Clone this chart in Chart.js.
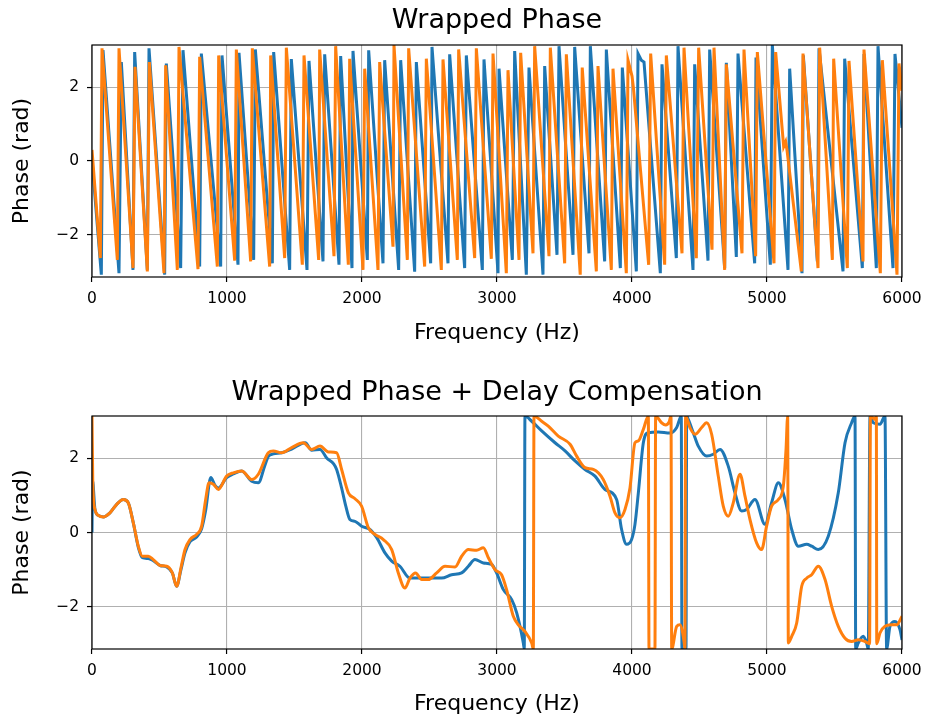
<!DOCTYPE html>
<html>
<head>
<meta charset="utf-8">
<script src="https://cdn.jsdelivr.net/npm/chart.js@4/dist/chart.umd.min.js"></script>
<style>
  html, body { margin: 0; padding: 0; background: #ffffff; }
  #wrap { position: relative; width: 933px; height: 718px; }
  canvas { position: absolute; left: 0; }
</style>
</head>
<body>
<div id="wrap">
  <canvas id="c1" width="933" height="365" style="top:0px"></canvas>
  <canvas id="c2" width="933" height="353" style="top:365px"></canvas>
</div>
<script>
// ---------- Data ----------
const seriesNames = ['Signal A', 'Signal B'];
const xTicks = [0, 1000, 2000, 3000, 4000, 5000, 6000];
const yTicks = [-2, 0, 2];
const titles = ['Wrapped Phase', 'Wrapped Phase + Delay Compensation'];
const xLabel = 'Frequency (Hz)';
const yLabel = 'Phase (rad)';

// Top panel: wrapped phase, blue series (Hz / rad)
const wrapBlueHz = [0,69.1,81.5,200,217.3,303.7,316,409.9,422.2,538.3,550.6,656.8,674.1,797.5,809.9,953.1,963,
  1081.5,1088.9,1197.5,1209.9,1335.8,1345.7,1464.2,1476.5,1592.6,1607.4,1711.1,1723.5,1829.6,1841.9,1925.9,1933.3,
  2039.5,2049.4,2155.6,2167.9,2271.6,2286.4,2390.1,2402.5,2508.6,2518.5,2637,2649.4,2760.5,2772.8,2891.3,2903.7,
  3007.4,3015,3113.6,3130.9,3217.3,3237,3340.7,3353.1,3444.4,3459.3,3563,3575.3,3681.5,3691.4,3797.5,3809.9,3913.6,3928.4,
  4032.1,4044.4,4069,4088.9,4209.9,4222.2,4328.4,4340.7,4451.8,4464.2,4562.9,4575.3,4686.4,4698.8,4772.8,4785.2,4908.6,4918.5,
  5024.7,5039.5,5155.6,5167.9,5259.3,5269.1,5372.8,5385.2,5563,5575.3,5706.2,5718.5,5809.9,5822.2,5933.3,5948,6000];
const wrapBlueRad = [0.03,-3.08,3.0,-3.04,2.68,-2.95,2.95,-2.95,3.05,-3.08,2.64,-2.9,3.0,-2.86,2.91,-2.86,2.86,
  -2.81,2.93,-2.68,3.02,-2.77,2.95,-2.95,2.76,-2.95,2.71,-2.72,2.89,-2.81,2.84,-2.9,2.98,
  -2.68,3.0,-2.77,2.73,-2.95,2.73,-3.0,2.68,-2.77,3.09,-2.77,2.89,-2.9,2.86,-2.95,2.75,
  -3.04,2.5,-2.68,2.98,-3.08,2.53,-3.08,2.57,-2.54,3.11,-2.54,3.09,-2.5,3.11,-2.72,3.02,-2.9,2.53,
  -2.99,2.91,2.73,2.68,-3.04,2.62,-2.63,3.11,-2.95,2.62,-2.7,3.02,-2.9,2.66,-2.6,2.91,-2.77,2.8,
  -2.81,3.14,-2.95,2.5,-3.04,2.86,-2.72,3.05,-2.99,2.77,-2.9,2.9,-2.9,3.11,-2.9,2.9,0.9];

// Top panel: wrapped phase, orange series (Hz / rad)
const wrapOrangeHz = [0,61.7,74.1,187.7,200,303.7,318.5,409.9,424.7,533.3,545.7,632.1,644.4,785.2,797.5,928.4,938.3,
  1056.8,1069.1,1175.3,1187.6,1316,1323.5,1427.2,1439.5,1558,1570.4,1679,1686.4,1792.6,1804.9,1898.8,1908.6,
  2007.4,2019.8,2118.5,2130.9,2229.6,2237,2335.8,2345.7,2464.2,2476.5,2587.6,2600,2706.2,2716,2834.6,2846.9,2958,2970.4,
  3069.1,3081.5,3163,3175.3,3266.7,3279,3385.2,3395,3501.2,3513.6,3616.5,3631.3,3735.8,3748.1,3846.9,3859.3,3957.9,3970.4,
  4000,4010,4123.5,4138.3,4241.9,4254.3,4370.4,4385.2,4476.5,4493.8,4592.6,4607.4,4686.4,4698.8,4814.8,4829.6,4916,4928.4,
  5051.9,5064.2,5123.5,5138.3,5148,5254.3,5266.7,5377.8,5390.1,5484,5493.8,5595,5607.4,5711.1,5718.5,5839.5,5854.3,5963,5977.8,6000];
const wrapOrangeRad = [0.3,-2.63,3.05,-2.68,3.05,-2.9,2.55,-2.99,2.68,-3.04,2.59,-2.95,3.09,-2.93,2.82,-2.86,2.86,
  -2.7,3.02,-2.72,3.05,-2.86,2.86,-2.63,3.07,-2.81,2.86,-2.68,3.02,-2.58,3.11,-2.81,2.77,
  -2.95,2.5,-2.95,2.68,-2.32,3.14,-2.68,3.05,-2.86,2.77,-2.95,2.75,-2.68,3.02,-2.63,3.05,-2.65,2.91,
  -3.04,2.46,-2.68,2.93,-2.5,3.11,-2.58,3.07,-2.77,2.89,-3.08,2.53,-2.99,2.57,-2.95,2.5,-3.04,2.73,
  2.3,2.0,-2.81,2.91,-2.81,2.86,-2.5,3.07,-2.63,3.07,-2.4,3.07,-2.95,2.62,-2.5,3.02,-2.58,2.95,
  -2.77,2.95,0.39,0.52,0.3,-2.99,2.91,-2.9,3.07,-2.68,2.77,-2.9,2.71,-2.72,3.02,-3.04,2.73,-3.08,2.64,1.9];

// Bottom panel: delay-compensated phase, blue series (Hz / rad)
const compBlueHz = [0,4,22,47,84,133,183,232,269,306,343,373,417,454,504,553,595,627,659,689,726,775,812,842,880,910,936,997,
  1047,1109,1183,1232,1280,1306,1343,1405,1479,1580,1627,1689,1740,1790,1812,1849,1880,1910,1948,1997,
  2059,2109,2170,2220,2281,2355,2442,2590,2664,2738,2788,2837,2899,2960,2997,3047,3109,3146,3195,3202,3207,3257,3331,3430,3504,3578,3652,3726,3800,3886,3923,3960,3997,
  4022,4047,4084,4121,4195,4281,4331,4365,4370,4400,4405,4417,4454,4491,4553,4602,4652,4713,4763,4812,4849,4911,4985,
  5034,5084,5133,5183,5232,5294,5331,5380,5454,5528,5578,5627,5652,5657,5676,5713,5738,5750,5763,5788,5837,5874,5886,5911,5948,5985,6000];
const compBlueRad = [0.0,1.4,0.62,0.46,0.42,0.53,0.76,0.89,0.8,0.26,-0.4,-0.68,-0.7,-0.76,-0.89,-0.93,-1.09,-1.45,-1.0,-0.55,-0.25,-0.12,0.1,0.6,1.48,1.28,1.2,1.48,
  1.58,1.66,1.38,1.34,1.8,2.05,2.12,2.15,2.25,2.42,2.22,2.24,2.0,1.85,1.7,1.2,0.71,0.35,0.3,0.17,
  0.08,-0.14,-0.55,-0.77,-0.91,-1.23,-1.23,-1.23,-1.14,-1.09,-0.91,-0.73,-0.82,-0.86,-1.09,-1.54,-1.81,-2.17,-2.98,-3.14,3.14,3.0,2.74,2.42,2.2,1.93,1.7,1.52,1.16,0.89,0.08,-0.32,-0.19,
  0.22,1.07,2.42,2.69,2.71,2.68,2.83,3.14,-3.14,-3.14,3.14,3.05,2.69,2.33,2.06,2.11,2.24,1.79,1.07,0.58,0.62,0.89,0.22,
  0.8,1.34,0.89,0.08,-0.37,-0.32,-0.37,-0.46,-0.1,1.07,2.42,2.96,3.14,-3.14,-2.98,-2.8,-2.98,-3.14,3.14,2.96,2.92,3.14,-3.14,-2.53,-2.4,-2.62,-2.9];

// Bottom panel: delay-compensated phase, orange series (Hz / rad)
const compOrangeHz = [0,6,22,47,84,133,183,232,269,306,343,373,417,454,504,553,595,627,659,689,726,775,812,842,867,899,936,997,
  1047,1109,1183,1232,1306,1343,1405,1479,1565,1627,1689,1751,1812,1849,1899,1948,1997,
  2047,2096,2158,2220,2269,2318,2355,2397,2442,2491,2553,2615,2689,2738,2788,2849,2899,2936,2985,3034,3071,3121,3158,3207,3257,3269,3274,3331,3380,3454,3541,3590,3652,3713,3787,3837,3874,3911,3948,3985,
  4022,4047,4084,4121,4126,4170,4175,4219,4250,4275,4289,4294,4331,4355,4387,4392,4397,4429,4467,4516,4553,4590,4639,4676,4713,4750,4800,4837,4874,4923,4960,4997,
  5034,5084,5121,5141,5153,5158,5183,5220,5257,5294,5331,5380,5430,5479,5528,5578,5627,5676,5726,5760,5766,5800,5810,5813,5837,5874,5923,5960,6000];
const compOrangeRad = [3.14,1.3,0.62,0.46,0.42,0.53,0.76,0.89,0.8,0.26,-0.37,-0.64,-0.64,-0.73,-0.89,-0.91,-1.09,-1.45,-0.95,-0.46,-0.19,-0.05,0.17,0.89,1.34,1.3,1.16,1.52,
  1.61,1.66,1.43,1.57,2.15,2.2,2.15,2.29,2.42,2.24,2.33,2.17,2.15,1.7,1.07,0.91,0.71,
  0.13,-0.05,-0.19,-0.46,-1.09,-1.5,-1.23,-1.09,-1.27,-1.27,-1.09,-0.91,-0.93,-0.64,-0.46,-0.48,-0.41,-0.68,-1.0,-1.14,-1.54,-2.26,-2.49,-2.67,-2.98,-3.14,3.14,3.0,2.87,2.6,2.38,2.06,1.75,1.7,1.43,0.98,0.53,0.4,0.62,1.2,
  2.42,2.47,2.78,3.14,-3.14,-3.14,3.14,2.96,2.9,2.98,3.14,-3.14,-2.53,-2.49,-2.98,-3.14,3.14,2.83,2.65,2.83,2.96,2.65,1.52,0.71,0.44,0.8,1.57,0.98,0.35,-0.28,-0.46,0.17,
  0.71,0.89,1.25,2.24,3.14,-2.98,-2.8,-2.44,-1.45,-1.23,-1.14,-0.91,-1.27,-1.99,-2.53,-2.85,-2.94,-2.89,-2.94,-3.0,3.14,3.05,3.14,-3.0,-2.71,-2.53,-2.49,-2.49,-2.26];

// ---------- Chart construction ----------
const BLUE = '#1f77b4', ORANGE = '#ff7f0e';
const FONT = 'DejaVu Sans';
const pts = (xs, ys) => xs.map((x, i) => ({ x: x, y: ys[i] }));
const fmt = v => (v < 0 ? '\u2212' + Math.abs(v) : String(v));

const frame = {
  id: 'frame',
  afterDatasetsDraw(chart) {
    const { ctx, chartArea: a } = chart;
    ctx.save();
    ctx.strokeStyle = '#000';
    ctx.lineWidth = 1.2;
    ctx.strokeRect(a.left, a.top, a.right - a.left, a.bottom - a.top);
    ctx.restore();
  }
};

function makeChart(id, title, blueX, blueY, orangeX, orangeY, smooth, geo) {
  const tickFont = { family: FONT, size: 15.5 };
  const labelFont = { family: FONT, size: 22, lineHeight: 1.2 };
  return new Chart(document.getElementById(id), {
    type: 'line',
    data: {
      datasets: [
        { label: seriesNames[0], data: pts(blueX, blueY), borderColor: BLUE, borderWidth: 3,
          pointRadius: 0, fill: false, order: 1, clip: 0,
          tension: smooth ? 0.4 : 0, cubicInterpolationMode: smooth ? 'monotone' : 'default' },
        { label: seriesNames[1], data: pts(orangeX, orangeY), borderColor: ORANGE, borderWidth: 3,
          pointRadius: 0, fill: false, order: 0, clip: 0,
          tension: smooth ? 0.4 : 0, cubicInterpolationMode: smooth ? 'monotone' : 'default' }
      ]
    },
    options: {
      responsive: false, animation: false, devicePixelRatio: 1,
      layout: { padding: { left: 0, right: 31, top: 0, bottom: 0 } },
      plugins: {
        legend: { display: false }, tooltip: { enabled: false },
        title: { display: true, text: title, color: '#000', fullSize: false,
          font: { family: FONT, size: 27, weight: 'normal', lineHeight: 1.2 },
          padding: { top: geo.tTop, bottom: geo.tBottom } }
      },
      scales: {
        x: {
          type: 'linear', min: 0, max: 6000,
          afterBuildTicks(s) { s.ticks = xTicks.map(v => ({ value: v })); },
          afterFit(s) { s.height = geo.xH; },
          ticks: { font: tickFont, color: '#000', padding: 8, maxRotation: 0, autoSkip: false,
            callback: v => fmt(v) },
          grid: { color: '#b0b0b0', lineWidth: 1.1, tickColor: '#000', tickLength: 5, tickWidth: 1.2 },
          border: { display: false },
          title: { display: true, text: xLabel, color: '#000', font: labelFont,
            padding: { top: 0, bottom: geo.xtB } }
        },
        y: {
          type: 'linear', min: -Math.PI, max: Math.PI,
          afterBuildTicks(s) { s.ticks = yTicks.map(v => ({ value: v })); },
          afterFit(s) { s.width = 92; },
          ticks: { font: tickFont, color: '#000', padding: 8, callback: v => fmt(v) },
          grid: { color: '#b0b0b0', lineWidth: 1.1, tickColor: '#000', tickLength: 5, tickWidth: 1.2 },
          border: { display: false },
          title: { display: true, text: yLabel, color: '#000', font: labelFont,
            padding: { top: 8.8, bottom: 0 } }
        }
      }
    },
    plugins: [frame]
  });
}

makeChart('c1', titles[0], wrapBlueHz, wrapBlueRad, wrapOrangeHz, wrapOrangeRad, false,
  { tTop: 4.3, tBottom: 8.3, xH: 88, xtB: 18.8 });
makeChart('c2', titles[1], compBlueHz, compBlueRad, compOrangeHz, compOrangeRad, true,
  { tTop: 11.8, tBottom: 6.8, xH: 69, xtB: 0.8 });
</script>
</body>
</html>
